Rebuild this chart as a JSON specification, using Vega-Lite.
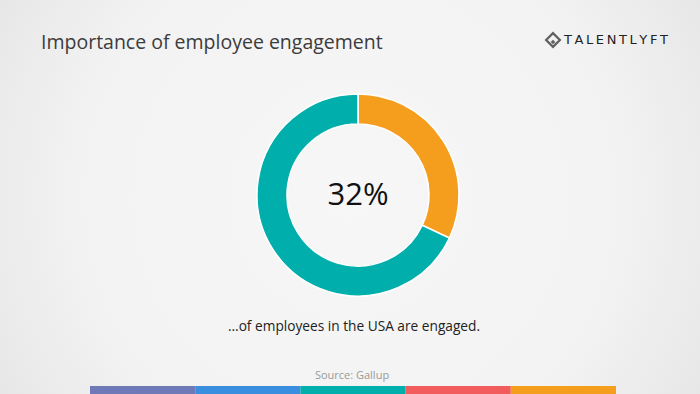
{
  "$schema": "https://vega.github.io/schema/vega-lite/v6.json",
  "width": 700,
  "height": 394,
  "autosize": {"type": "fit", "contains": "padding"},
  "padding": 0,
  "background": "#ececec",
  "config": {"view": {"stroke": null}, "font": "Open Sans"},
  "layer": [
    {
      "data": {"values": [{"bg": "background"}]},
      "mark": {
        "type": "rect",
        "x": {"expr": "0"},
        "x2": {"expr": "width"},
        "y": {"expr": "0"},
        "y2": {"expr": "height"},
        "fill": {
          "gradient": "radial",
          "x1": 0.5, "y1": 0.5, "r1": 0,
          "x2": 0.5, "y2": 0.5, "r2": 0.72,
          "stops": [
            {"offset": 0, "color": "#f7f7f7"},
            {"offset": 0.55, "color": "#f2f2f2"},
            {"offset": 1, "color": "#dedede"}
          ]
        }
      },
      "encoding": {}
    },
    {
      "data": {"values": [
        {"status": "Engaged", "value": 32},
        {"status": "Not engaged", "value": 68}
      ]},
      "mark": {"type": "arc", "x": {"expr": "width/2+8"}, "y": {"expr": "height/2-2"}, "outerRadius": 101, "innerRadius": 71, "stroke": "#ffffff", "strokeWidth": 1.5},
      "encoding": {
        "theta": {"field": "value", "type": "quantitative", "stack": true},
        "color": {
          "field": "status", "type": "nominal",
          "scale": {"domain": ["Engaged", "Not engaged"], "range": ["#f59e1e", "#00aeac"]},
          "legend": null
        }
      }
    },
    {
      "data": {"values": [{"label": "32%"}]},
      "mark": {"type": "text", "x": {"expr": "width/2+8"}, "y": {"expr": "height/2-1"}, "fontSize": 31, "color": "#111111", "baseline": "middle", "align": "center"},
      "encoding": {"text": {"field": "label"}}
    },
    {
      "data": {"values": [{"label": "Importance of employee engagement"}]},
      "mark": {"type": "text", "x": 41, "y": 43, "align": "left", "baseline": "middle", "fontSize": 19.5, "color": "#3c3c3c"},
      "encoding": {"text": {"field": "label"}}
    },
    {
      "data": {"values": [{"label": "…of employees in the USA are engaged."}]},
      "mark": {"type": "text", "x": 354, "y": 327, "align": "center", "baseline": "middle", "fontSize": 13.7, "color": "#222222"},
      "encoding": {"text": {"field": "label"}}
    },
    {
      "data": {"values": [{"label": "Source: Gallup"}]},
      "mark": {"type": "text", "x": 352, "y": 376, "align": "center", "baseline": "middle", "fontSize": 11, "color": "#9a9a9a"},
      "encoding": {"text": {"field": "label"}}
    },
    {
      "data": {"values": [{"label": "T\u2009A\u2009L\u2009E\u2009N\u2009T\u2009L\u2009Y\u2009F\u2009T"}]},
      "mark": {"type": "text", "x": 564, "y": 40, "align": "left", "baseline": "middle", "fontSize": 13, "font": "DejaVu Sans", "color": "#222222"},
      "encoding": {"text": {"field": "label"}}
    },
    {
      "data": {"values": [{"part": "outer"}]},
      "mark": {"type": "point", "shape": "diamond", "x": 553, "y": 40, "size": 190, "filled": false, "stroke": "#222222", "strokeWidth": 2.2},
      "encoding": {}
    },
    {
      "data": {"values": [{"part": "inner"}]},
      "mark": {"type": "point", "shape": "diamond", "x": 553, "y": 42, "size": 22, "filled": true, "fill": "#222222", "strokeWidth": 0},
      "encoding": {}
    },
    {
      "data": {"values": [
        {"segment": "A"}, {"segment": "B"}, {"segment": "C"}, {"segment": "D"}, {"segment": "E"}
      ]},
      "mark": {"type": "bar", "y": {"expr": "height-8"}, "y2": {"expr": "height"}},
      "encoding": {
        "x": {"field": "segment", "type": "ordinal", "scale": {"range": [90, 616], "paddingInner": 0, "paddingOuter": 0}, "axis": null},
        "color": {
          "field": "segment", "type": "nominal",
          "scale": {"domain": ["A", "B", "C", "D", "E"], "range": ["#6f79b7", "#3a8ee0", "#00aeab", "#f25c5c", "#f59e1e"]},
          "legend": null
        }
      }
    }
  ],
  "resolve": {"scale": {"color": "independent"}}
}
